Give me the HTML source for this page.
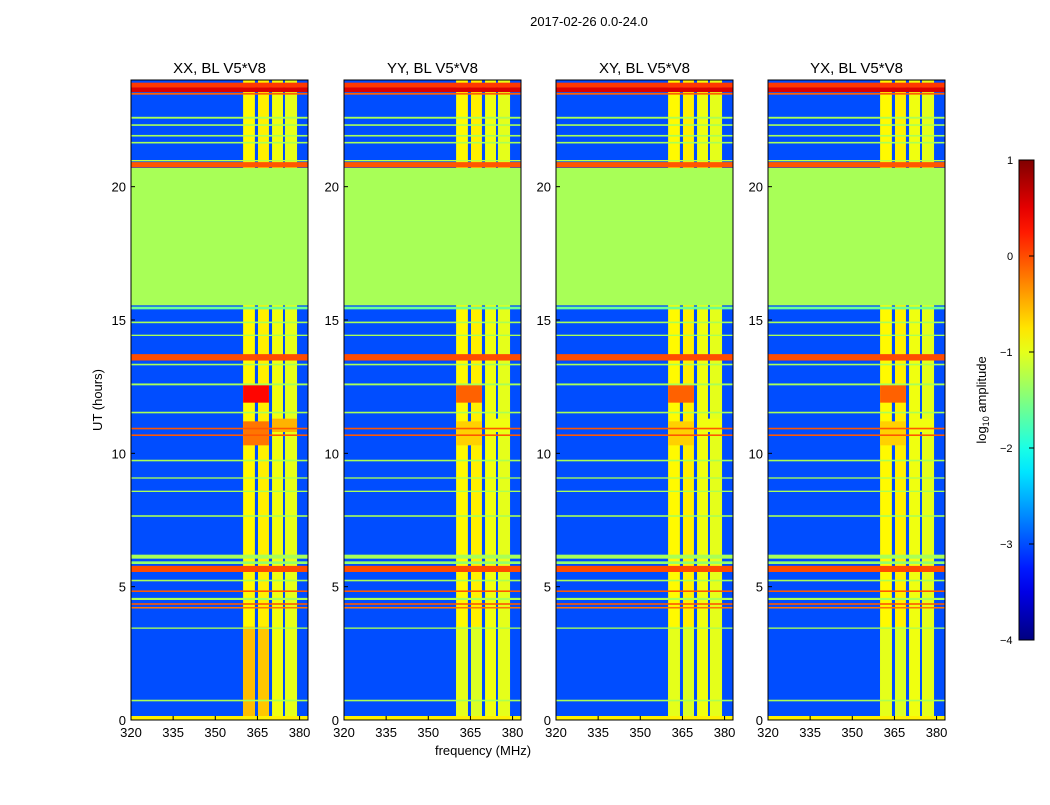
<!DOCTYPE html>
<html><head><meta charset="utf-8"><style>
body{margin:0;background:#fff;}
svg text{font-family:"Liberation Sans",sans-serif;}
</style></head><body>
<svg id="fig" width="1050" height="800" xmlns="http://www.w3.org/2000/svg">
<rect width="1050" height="800" fill="#fff"/>
<text x="589" y="26" font-size="13" text-anchor="middle">2017-02-26 0.0-24.0</text>
<text x="483" y="755" font-size="13" text-anchor="middle">frequency (MHz)</text>
<text transform="translate(102,400) rotate(-90)" font-size="13" text-anchor="middle">UT (hours)</text>
<g id="panels"></g>
<g id="cbar"></g>
</svg>
<script>
const panelTitles=["XX, BL V5*V8","YY, BL V5*V8","XY, BL V5*V8","YX, BL V5*V8"];
const panelLeft=[131,344,556,768];
const xTicks=[320,335,350,365,380];
const yTicks=[0,5,10,15,20];
const cbTicks=[1,0,-1,-2,-3,-4];
const bgValue=-3.0;
// vertical RFI columns [fmin,fmax,value]
const colBands=[[359.9,364.1,-0.85],[365.2,369.1,-0.8],[370.2,374.1,-0.95],[374.8,379.1,-1.0]];
// patches [fmin,fmax,hmin,hmax,value]
const patches=[[359.9,369.1,11.9,12.6,0.35],[359.9,369.1,10.3,11.2,-0.2],[370.2,379.1,10.8,11.3,-0.5],[359.9,364.1,0,3.5,-0.55],[365.2,369.1,0,3.5,-0.6]];
// horizontal bands [hmin,hmax,value]
const hBands=[[23.55,23.72,0.55],[23.72,23.9,0.1],[23.45,23.52,-0.1],[22.55,22.62,-1.3],[22.28,22.34,-1.3],[21.88,21.94,-1.3],[21.62,21.68,-1.3],
[20.72,20.92,-0.05],[20.95,21.0,-1.2],[15.55,20.7,-1.3],[15.4,15.5,-1.6],[14.88,14.94,-1.3],[14.4,14.45,-1.3],[13.48,13.72,0.0],[13.3,13.36,-1.3],[12.55,12.62,-1.3],[11.5,11.56,-1.3],
[10.9,10.96,-0.05],[10.65,10.71,-0.05],[9.7,9.76,-1.3],[9.05,9.1,-1.3],[8.55,8.6,-1.3],[7.62,7.68,-1.3],[6.05,6.2,-1.3],[5.85,5.95,-1.4],[5.55,5.78,0.0],[5.2,5.26,-1.3],
[4.8,4.86,-0.05],[4.5,4.58,-1.3],[4.32,4.38,-0.05],[4.18,4.24,-0.2],[3.42,3.47,-1.3],[0.7,0.76,-1.3],[0.0,0.15,-0.8]];
const fMin=320,fMax=383,hMax=24,PW=177,PT=80,PB=720,vmin=-4,vmax=1;
const NS="http://www.w3.org/2000/svg";
function jet(v){let t=Math.max(0,Math.min(1,(v-vmin)/(vmax-vmin)));const c=x=>Math.round(255*Math.max(0,Math.min(1,1.5-Math.abs(x))));return `rgb(${c(4*t-3)},${c(4*t-2)},${c(4*t-1)})`;}
function yS(h){return PB-(h/hMax)*(PB-PT);}
function mk(tag,attrs,parent){const e=document.createElementNS(NS,tag);for(const k in attrs)e.setAttribute(k,attrs[k]);parent.appendChild(e);return e;}
const panels=document.getElementById('panels');
panelTitles.forEach((title,i)=>{
 const L=panelLeft[i];const xS=f=>L+(f-fMin)/(fMax-fMin)*PW;
 const g=mk('g',{},panels);
 
 
 const bg=mk('rect',{x:L,y:PT,width:PW,height:PB-PT,fill:jet(bgValue)},g);
 
 
 colBands.forEach(c=>{const r=mk('rect',{x:xS(c[0]),y:PT,width:xS(c[1])-xS(c[0]),height:PB-PT,fill:jet(c[2])},g);
  
  });
 patches.forEach(p=>{const r=mk('rect',{x:xS(p[0]),y:yS(p[3]),width:xS(p[1])-xS(p[0]),height:yS(p[2])-yS(p[3]),fill:jet(i==0?p[4]:(p[4]+p[4]-0.9)/2)},g);
  
  });
 hBands.forEach(b=>{const r=mk('rect',{x:L,y:yS(b[1]),width:PW,height:Math.max(1.2,yS(b[0])-yS(b[1])),fill:jet(b[2])},g);
  
  });
 const fr=mk('rect',{x:L,y:PT,width:PW,height:PB-PT,fill:'none',stroke:'#000','stroke-width':1},g);
 
 
 const tt=mk('text',{x:L+PW/2,y:73,'font-size':15,'text-anchor':'middle'},g);tt.textContent=title;
 
 
 xTicks.forEach(t=>{const x=xS(t);mk('line',{x1:x,x2:x,y1:PB,y2:PB-4,stroke:'#000'},g);
  const tx=mk('text',{x:x,y:737,'font-size':13,'text-anchor':'middle'},g);tx.textContent=t;
  
  });
 yTicks.forEach(t=>{const y=yS(t);mk('line',{x1:L,x2:L+4,y1:y,y2:y,stroke:'#000'},g);
  const tx=mk('text',{x:L-5,y:y+5,'font-size':13,'text-anchor':'end'},g);tx.textContent=t;
  
  });
});
const cb=document.getElementById('cbar');
const defs=mk('defs',{},cb);const lg=mk('linearGradient',{id:'jetg',x1:0,y1:1,x2:0,y2:0},defs);
for(let k=0;k<=20;k++){mk('stop',{offset:k/20,'stop-color':jet(vmin+k/20*(vmax-vmin))},lg);}
const cbT=160,cbB=640;
const cr=mk('rect',{x:1019,y:cbT,width:15,height:cbB-cbT,fill:'url(#jetg)',stroke:'#000'},cb);


cbTicks.forEach(t=>{const y=cbB-(t-vmin)/(vmax-vmin)*(cbB-cbT);mk('line',{x1:1029,x2:1034,y1:y,y2:y,stroke:'#000'},cb);
 const tx=mk('text',{x:1006,y:y+4,'font-size':11},cb);tx.textContent=(t<0?'\u2212':'')+Math.abs(t);
 tx.setAttribute('x',t<0?1000:1007);
 
 });
const cl=mk('text',{transform:'translate(986,400) rotate(-90)','font-size':13,'text-anchor':'middle'},cb);
cl.innerHTML='log<tspan font-size="9" dy="3">10</tspan><tspan dy="-3"> amplitude</tspan>';


</script>
</body></html>
